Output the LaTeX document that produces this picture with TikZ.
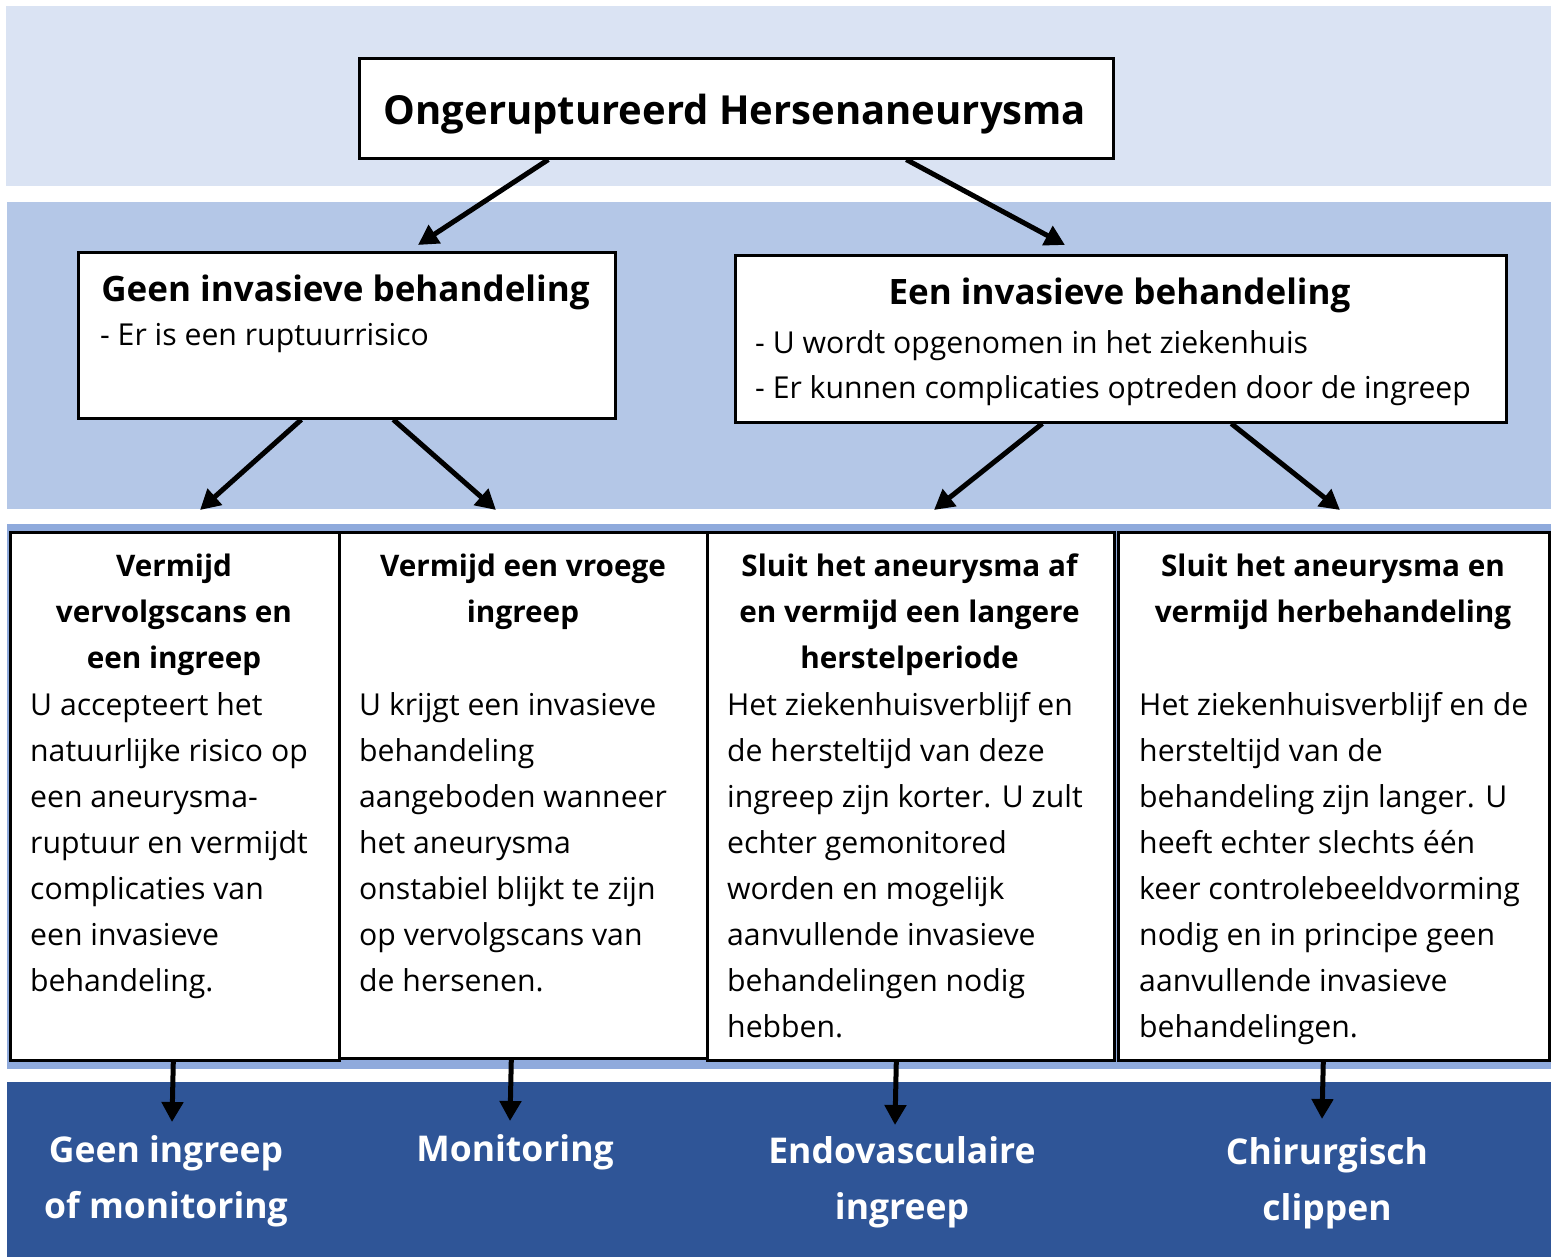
\documentclass[tikz,border=0pt]{standalone}
\usepackage{fontspec}
\setmainfont{Open Sans}
\usetikzlibrary{arrows.meta}
\definecolor{bandA}{HTML}{DAE3F3}
\definecolor{bandB}{HTML}{B4C7E7}
\definecolor{bandC}{HTML}{8FAADC}
\definecolor{bandD}{HTML}{2F5597}
\tikzset{
  boxst/.style={draw=black, line width=2.6pt, fill=white, inner sep=0pt, anchor=north west},
  txt/.style={inner sep=0pt, anchor=base west},
  ctxt/.style={inner sep=0pt, anchor=base},
  arr/.style={line width=5pt, -{Triangle[length=20pt,width=21pt]}},
  lbl/.style={inner sep=0pt, anchor=base, text=white, font=\fontsize{35.5}{56}\selectfont\bfseries},
}
\newcommand{\bodyfont}{\fontsize{30.2}{46}\selectfont}
\newcommand{\colhead}{\fontsize{29.7}{46}\selectfont\bfseries}
\begin{document}
\begin{tikzpicture}[x=1pt,y=-1pt]
\useasboundingbox (0,0) rectangle (1556,1257);
% bands
\fill[bandA] (6,6) rectangle (1551,186);
\fill[bandB] (7,202) rectangle (1551,509);
\fill[bandC] (7,524) rectangle (1551,1069);
\fill[bandD] (7,1082) rectangle (1551,1257);

% top box
\node[boxst, minimum width=754pt, minimum height=100pt] (top) at (358,57) {};
\node[ctxt, font=\fontsize{40}{46}\selectfont\bfseries] (toptxt) at (735,125) {Ongeruptureerd Hersenaneurysma};

% middle boxes
\node[boxst, minimum width=537pt, minimum height=166pt] (ml) at (77,251) {};
\node[ctxt, font=\fontsize{35}{46}\selectfont\bfseries] (mlt) at (345.5,302) {Geen invasieve behandeling};
\node[txt, font=\bodyfont] (mls) at (100,346) {- Er is een ruptuurrisico};

\node[boxst, minimum width=771pt, minimum height=167pt] (mr) at (734,254) {};
\node[ctxt, font=\fontsize{35}{46}\selectfont\bfseries] (mrt) at (1119.5,305) {Een invasieve behandeling};
\node[txt, font=\bodyfont] (mrs) at (755,353) {\parbox[t]{745pt}{\raggedright - U wordt opgenomen in het ziekenhuis\\- Er kunnen complicaties optreden door de ingreep}};

% four boxes
\node[boxst, minimum width=329pt, minimum height=528pt] (b1) at (9,531) {};
\node[boxst, minimum width=368pt, minimum height=526pt] (b2) at (338,531) {};
\node[boxst, minimum width=407pt, minimum height=528pt] (b3) at (706,531) {};
\node[boxst, minimum width=431pt, minimum height=528pt] (b4) at (1117,531) {};

\node[ctxt] (b1t) at (174,576) {\parbox[t]{325pt}{\centering\colhead Vermijd\\vervolgscans en\\een ingreep}};
\node[txt] (b1b) at (30,715) {\parbox[t]{305pt}{\raggedright\bodyfont U accepteert het\\natuurlijke risico op\\een aneurysma-\\ruptuur en vermijdt\\complicaties van\\een invasieve\\behandeling.}};

\node[ctxt] (b2t) at (523,576) {\parbox[t]{365pt}{\centering\colhead Vermijd een vroege\\ingreep}};
\node[txt] (b2b) at (359,715) {\parbox[t]{345pt}{\raggedright\bodyfont U krijgt een invasieve\\behandeling\\aangeboden wanneer\\het aneurysma\\onstabiel blijkt te zijn\\op vervolgscans van\\de hersenen.}};

\node[ctxt] (b3t) at (909.5,576) {\parbox[t]{405pt}{\centering\colhead Sluit het aneurysma af\\en vermijd een langere\\herstelperiode}};
\node[txt] (b3b) at (727,715) {\parbox[t]{385pt}{\raggedright\bodyfont Het ziekenhuisverblijf en\\de hersteltijd van deze\\ingreep zijn korter. U zult\\echter gemonitored\\worden en mogelijk\\aanvullende invasieve\\behandelingen nodig\\hebben.}};

\node[ctxt] (b4t) at (1333,576) {\parbox[t]{428pt}{\centering\colhead Sluit het aneurysma en\\vermijd herbehandeling}};
\node[txt] (b4b) at (1139,715) {\parbox[t]{410pt}{\raggedright\bodyfont Het ziekenhuisverblijf en de\\hersteltijd van de\\behandeling zijn langer. U\\heeft echter slechts één\\keer controlebeeldvorming\\nodig en in principe geen\\aanvullende invasieve\\behandelingen.}};

% bottom labels
\node[lbl] (l1) at (166,1162) {\parbox[t]{320pt}{\centering Geen ingreep\\of monitoring}};
\node[lbl] (l2) at (515,1161) {Monitoring};
\node[lbl] (l3) at (902,1163) {\parbox[t]{380pt}{\centering Endovasculaire\\ingreep}};
\node[lbl] (l4) at (1327,1164) {\parbox[t]{380pt}{\centering Chirurgisch\\clippen}};

% arrow endpoints
\coordinate (e1) at (418,245);
\coordinate (e2) at (1065,245);
\coordinate (e3) at (200,510);
\coordinate (e4) at (496,510);
\coordinate (e5) at (934,510);
\coordinate (e6) at (1340,510);
\coordinate (f1) at (172,1122);
\coordinate (f2) at (510,1121);
\coordinate (f3) at (895,1125);
\coordinate (f4) at (1322,1119);

% arrows
\draw[arr] ([xshift=-188pt]top.south) -- (e1);
\draw[arr] ([xshift=170pt]top.south) -- (e2);
\draw[arr] ([xshift=-45.5pt]ml.south) -- (e3);
\draw[arr] ([xshift=46.5pt]ml.south) -- (e4);
\draw[arr] ([xshift=-78.5pt]mr.south) -- (e5);
\draw[arr] ([xshift=110.5pt]mr.south) -- (e6);
\draw[arr] ([xshift=-1.5pt]b1.south) -- (f1);
\draw[arr] ([xshift=-12pt]b2.south) -- (f2);
\draw[arr] ([xshift=-14.5pt]b3.south) -- (f3);
\draw[arr] ([xshift=-10.5pt]b4.south) -- (f4);
\end{tikzpicture}
\end{document}
